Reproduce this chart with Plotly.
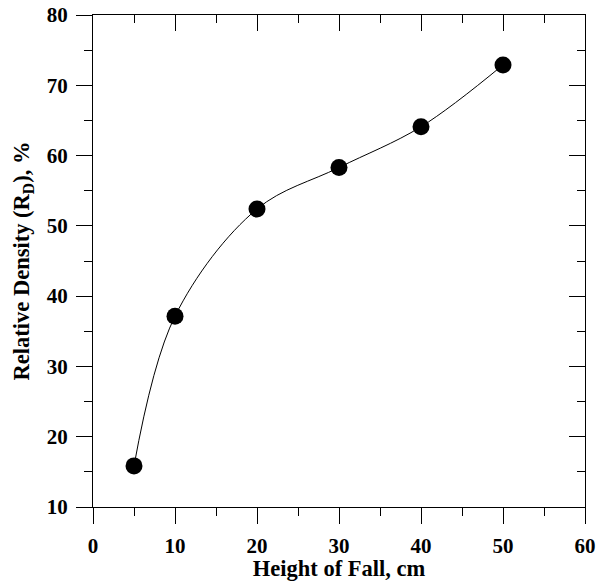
import plotly.graph_objects as go

height_of_fall = [5, 10, 20, 30, 40, 50]
relative_density = [15.85, 37.15, 52.4, 58.3, 64.1, 72.9]

x_ticks = [0, 10, 20, 30, 40, 50, 60]
y_ticks = [10, 20, 30, 40, 50, 60, 70, 80]

FONT = "Liberation Serif"
tickfont = dict(family=FONT, size=21, color="black", weight="bold")
titlefont = dict(family=FONT, size=22.5, color="black", weight="bold")

fig = go.Figure()
fig.add_trace(go.Scatter(
    x=height_of_fall, y=relative_density,
    mode="lines+markers",
    line=dict(color="black", width=1, shape="spline", smoothing=1.0),
    marker=dict(color="black", size=17, line=dict(width=0)),
    showlegend=False,
))
# invisible trace to activate overlay axes
fig.add_trace(go.Scatter(x=[None], y=[None], xaxis="x2", yaxis="y2", showlegend=False))

common_x = dict(range=[0, 60], tickvals=x_ticks, showgrid=False, zeroline=False,
                showline=True, linecolor="black", linewidth=1, automargin=False,
                tickcolor="black", tickwidth=1, ticklen=16)
common_y = dict(range=[10, 80], tickvals=y_ticks, showgrid=False, zeroline=False,
                showline=True, linecolor="black", linewidth=1, automargin=False,
                tickcolor="black", tickwidth=1, ticklen=16)

fig.update_layout(
    width=604, height=581,
    margin=dict(l=93, r=19, t=15, b=74, autoexpand=False),
    plot_bgcolor="white", paper_bgcolor="white",
    xaxis=dict(**common_x, ticks="outside", tickfont=tickfont,
               ticklabelstandoff=4,
               minor=dict(dtick=5, ticks="outside", ticklen=8, tickcolor="black", tickwidth=1),
               title=dict(text="Height of Fall, cm", font=titlefont, standoff=2)),
    yaxis=dict(**common_y, ticks="outside", tickfont=tickfont,
               ticklabelstandoff=4,
               minor=dict(dtick=5, ticks="outside", ticklen=8, tickcolor="black", tickwidth=1),
               title=dict(text="Relative Density (R<sub>D</sub>), %", font=titlefont, standoff=10)),
    xaxis2=dict(**common_x, ticks="inside", overlaying="x", side="top", showticklabels=False,
                minor=dict(dtick=5, ticks="inside", ticklen=8, tickcolor="black", tickwidth=1)),
    yaxis2=dict(**common_y, ticks="inside", overlaying="y", side="right", showticklabels=False,
                minor=dict(dtick=5, ticks="inside", ticklen=8, tickcolor="black", tickwidth=1)),
)

fig.write_html("out.html", config={"displayModeBar": False},
               post_script="document.body.style.margin='0px';")
